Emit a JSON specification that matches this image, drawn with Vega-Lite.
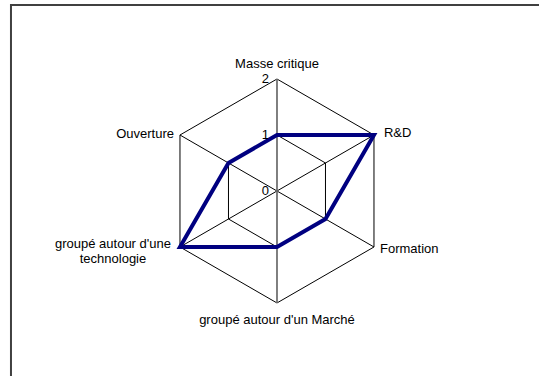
{
  "$schema": "https://vega.github.io/schema/vega-lite/v6.json",
  "width": 539,
  "height": 376,
  "autosize": "none",
  "padding": 0,
  "background": "white",
  "config": {"view": {"stroke": null}, "text": {"font": "Liberation Sans", "fontSize": 13, "color": "black"}},
  "datasets": {
    "cats": [
      {"axis": "Masse critique", "i": 0, "value": 1},
      {"axis": "R&D", "i": 1, "value": 2},
      {"axis": "Formation", "i": 2, "value": 1},
      {"axis": "groupé autour d'un Marché", "i": 3, "value": 1},
      {"axis": "groupé autour d'une technologie", "i": 4, "value": 2},
      {"axis": "Ouverture", "i": 5, "value": 1}
    ],
    "grid": [
      {"level": 1, "i": 0}, {"level": 1, "i": 1}, {"level": 1, "i": 2}, {"level": 1, "i": 3}, {"level": 1, "i": 4}, {"level": 1, "i": 5},
      {"level": 2, "i": 0}, {"level": 2, "i": 1}, {"level": 2, "i": 2}, {"level": 2, "i": 3}, {"level": 2, "i": 4}, {"level": 2, "i": 5}
    ],
    "ticks": [{"t": "0", "v": 0}, {"t": "1", "v": 1}, {"t": "2", "v": 2}]
  },
  "layer": [
    {
      "data": {"values": [{"f": 1}]},
      "mark": {"type": "rect", "fill": null, "stroke": "#404040", "strokeWidth": 2},
      "encoding": {
        "x": {"datum": -4.75, "type": "quantitative", "scale": {"domain": [-4.946, 4.679], "nice": false, "zero": false}, "axis": null},
        "x2": {"datum": 7},
        "y": {"datum": 3.321, "type": "quantitative", "scale": {"domain": [-3.304, 3.411], "nice": false, "zero": false}, "axis": null},
        "y2": {"datum": -6}
      }
    },
    {
      "data": {"name": "grid"},
      "transform": [
        {"calculate": "datum.level*sin(datum.i*PI/3)", "as": "gx"},
        {"calculate": "datum.level*cos(datum.i*PI/3)", "as": "gy"}
      ],
      "mark": {"type": "line", "interpolate": "linear-closed", "stroke": "black", "strokeWidth": 1},
      "encoding": {
        "x": {"field": "gx", "type": "quantitative", "scale": {"domain": [-4.946, 4.679], "nice": false, "zero": false}, "axis": null},
        "y": {"field": "gy", "type": "quantitative", "scale": {"domain": [-3.304, 3.411], "nice": false, "zero": false}, "axis": null},
        "detail": {"field": "level", "type": "nominal"},
        "order": {"field": "i", "type": "quantitative"}
      }
    },
    {
      "data": {"name": "cats"},
      "transform": [
        {"calculate": "0", "as": "ox"},
        {"calculate": "0", "as": "oy"},
        {"calculate": "2*sin(datum.i*PI/3)", "as": "ex"},
        {"calculate": "2*cos(datum.i*PI/3)", "as": "ey"}
      ],
      "mark": {"type": "rule", "stroke": "black", "strokeWidth": 1},
      "encoding": {
        "x": {"field": "ox", "type": "quantitative", "scale": {"domain": [-4.946, 4.679], "nice": false, "zero": false}, "axis": null},
        "y": {"field": "oy", "type": "quantitative", "scale": {"domain": [-3.304, 3.411], "nice": false, "zero": false}, "axis": null},
        "x2": {"field": "ex"},
        "y2": {"field": "ey"}
      }
    },
    {
      "data": {"values": [{"f": 1}]},
      "mark": {"type": "rule", "stroke": "#808080", "strokeWidth": 1.5},
      "encoding": {
        "x": {"datum": 0, "type": "quantitative", "scale": {"domain": [-4.946, 4.679], "nice": false, "zero": false}, "axis": null},
        "y": {"datum": 2, "type": "quantitative", "scale": {"domain": [-3.304, 3.411], "nice": false, "zero": false}, "axis": null},
        "y2": {"datum": -2}
      }
    },
    {
      "data": {"name": "cats"},
      "transform": [
        {"calculate": "datum.value*sin(datum.i*PI/3)", "as": "vx"},
        {"calculate": "datum.value*cos(datum.i*PI/3)", "as": "vy"}
      ],
      "mark": {"type": "line", "interpolate": "linear-closed", "stroke": "#000080", "strokeWidth": 4, "strokeJoin": "miter"},
      "encoding": {
        "x": {"field": "vx", "type": "quantitative", "scale": {"domain": [-4.946, 4.679], "nice": false, "zero": false}, "axis": null},
        "y": {"field": "vy", "type": "quantitative", "scale": {"domain": [-3.304, 3.411], "nice": false, "zero": false}, "axis": null},
        "order": {"field": "i", "type": "quantitative"}
      }
    },
    {
      "data": {"name": "ticks"},
      "transform": [{"calculate": "0", "as": "ox"}],
      "mark": {"type": "text", "align": "right", "baseline": "middle", "dx": -8},
      "encoding": {
        "x": {"field": "ox", "type": "quantitative", "scale": {"domain": [-4.946, 4.679], "nice": false, "zero": false}, "axis": null},
        "y": {"field": "v", "type": "quantitative", "scale": {"domain": [-3.304, 3.411], "nice": false, "zero": false}, "axis": null},
        "text": {"field": "t", "type": "nominal"}
      }
    },
    {
      "data": {"name": "cats"},
      "transform": [
        {"filter": "datum.i == 0"},
        {"calculate": "2*sin(datum.i*PI/3)", "as": "ex"},
        {"calculate": "2*cos(datum.i*PI/3)", "as": "ey"}
      ],
      "mark": {"type": "text", "align": "center", "baseline": "alphabetic", "dy": -11},
      "encoding": {
        "x": {"field": "ex", "type": "quantitative", "scale": {"domain": [-4.946, 4.679], "nice": false, "zero": false}, "axis": null},
        "y": {"field": "ey", "type": "quantitative", "scale": {"domain": [-3.304, 3.411], "nice": false, "zero": false}, "axis": null},
        "text": {"field": "axis", "type": "nominal"}
      }
    },
    {
      "data": {"name": "cats"},
      "transform": [
        {"filter": "datum.i == 1"},
        {"calculate": "2*sin(datum.i*PI/3)", "as": "ex"},
        {"calculate": "2*cos(datum.i*PI/3)", "as": "ey"}
      ],
      "mark": {"type": "text", "align": "left", "baseline": "middle", "dx": 10, "dy": -2},
      "encoding": {
        "x": {"field": "ex", "type": "quantitative", "scale": {"domain": [-4.946, 4.679], "nice": false, "zero": false}, "axis": null},
        "y": {"field": "ey", "type": "quantitative", "scale": {"domain": [-3.304, 3.411], "nice": false, "zero": false}, "axis": null},
        "text": {"field": "axis", "type": "nominal"}
      }
    },
    {
      "data": {"name": "cats"},
      "transform": [
        {"filter": "datum.i == 2"},
        {"calculate": "2*sin(datum.i*PI/3)", "as": "ex"},
        {"calculate": "2*cos(datum.i*PI/3)", "as": "ey"}
      ],
      "mark": {"type": "text", "align": "left", "baseline": "middle", "dx": 6, "dy": 2},
      "encoding": {
        "x": {"field": "ex", "type": "quantitative", "scale": {"domain": [-4.946, 4.679], "nice": false, "zero": false}, "axis": null},
        "y": {"field": "ey", "type": "quantitative", "scale": {"domain": [-3.304, 3.411], "nice": false, "zero": false}, "axis": null},
        "text": {"field": "axis", "type": "nominal"}
      }
    },
    {
      "data": {"name": "cats"},
      "transform": [
        {"filter": "datum.i == 3"},
        {"calculate": "2*sin(datum.i*PI/3)", "as": "ex"},
        {"calculate": "2*cos(datum.i*PI/3)", "as": "ey"}
      ],
      "mark": {"type": "text", "align": "center", "baseline": "alphabetic", "dy": 21},
      "encoding": {
        "x": {"field": "ex", "type": "quantitative", "scale": {"domain": [-4.946, 4.679], "nice": false, "zero": false}, "axis": null},
        "y": {"field": "ey", "type": "quantitative", "scale": {"domain": [-3.304, 3.411], "nice": false, "zero": false}, "axis": null},
        "text": {"field": "axis", "type": "nominal"}
      }
    },
    {
      "data": {"name": "cats"},
      "transform": [
        {"filter": "datum.i == 4"},
        {"calculate": "2*sin(datum.i*PI/3)", "as": "ex"},
        {"calculate": "2*cos(datum.i*PI/3)", "as": "ey"}
      ],
      "mark": {"type": "text", "align": "center", "baseline": "middle", "dx": -67, "dy": -3, "lineHeight": 15},
      "encoding": {
        "x": {"field": "ex", "type": "quantitative", "scale": {"domain": [-4.946, 4.679], "nice": false, "zero": false}, "axis": null},
        "y": {"field": "ey", "type": "quantitative", "scale": {"domain": [-3.304, 3.411], "nice": false, "zero": false}, "axis": null},
        "text": {"value": ["groupé autour d'une", "technologie"]}
      }
    },
    {
      "data": {"name": "cats"},
      "transform": [
        {"filter": "datum.i == 5"},
        {"calculate": "2*sin(datum.i*PI/3)", "as": "ex"},
        {"calculate": "2*cos(datum.i*PI/3)", "as": "ey"}
      ],
      "mark": {"type": "text", "align": "right", "baseline": "middle", "dx": -6, "dy": -1},
      "encoding": {
        "x": {"field": "ex", "type": "quantitative", "scale": {"domain": [-4.946, 4.679], "nice": false, "zero": false}, "axis": null},
        "y": {"field": "ey", "type": "quantitative", "scale": {"domain": [-3.304, 3.411], "nice": false, "zero": false}, "axis": null},
        "text": {"field": "axis", "type": "nominal"}
      }
    }
  ]
}
